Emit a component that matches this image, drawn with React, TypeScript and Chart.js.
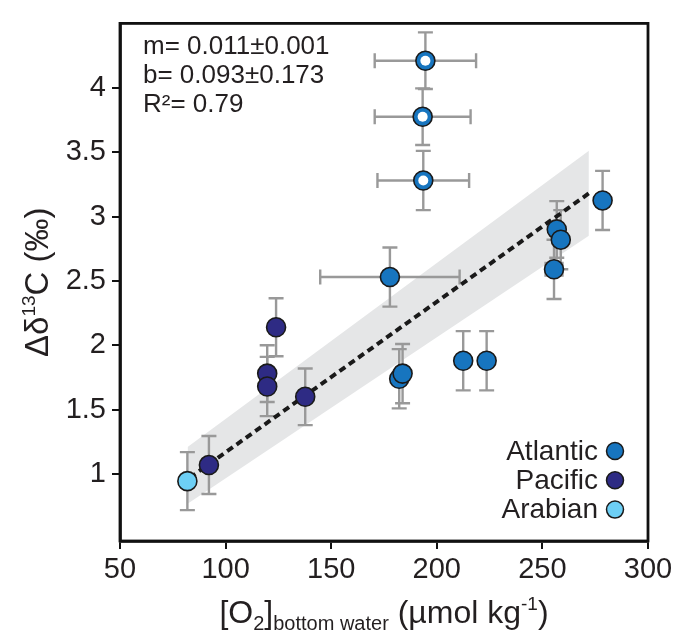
import React, { useEffect, useRef } from "react";
import { Chart, registerables } from "chart.js";

Chart.register(...registerables);

// ---- data ----
const xTicks = [50, 100, 150, 200, 250, 300];
const yTicks = [1, 1.5, 2, 2.5, 3, 3.5, 4];

const atlanticX = [194.6, 193.3, 193.6, 177.8, 278.5, 256.8, 258.7, 255.5, 182.2, 183.8, 212.5, 223.6];
const atlanticY = [4.21, 3.775, 3.28, 2.53, 3.125, 2.9, 2.82, 2.59, 1.74, 1.78, 1.88, 1.88];
const atlanticXErr = [24, 22.7, 21.7, 33, 0, 0, 0, 4, 0, 0, 0, 0];
const atlanticYErr = [0.22, 0.22, 0.23, 0.23, 0.23, 0.22, 0.23, 0.23, 0.23, 0.23, 0.23, 0.23];
const atlanticHollow = [true, true, true, false, false, false, false, false, false, false, false, false];

const pacificX = [123.9, 119.7, 119.7, 137.7, 92.1];
const pacificY = [2.14, 1.78, 1.68, 1.6, 1.07];
const pacificXErr = [0, 0, 0, 0, 2.4];
const pacificYErr = [0.225, 0.22, 0.23, 0.22, 0.225];

const arabianX = [81.9];
const arabianY = [0.945];
const arabianXErr = [0];
const arabianYErr = [0.225];

const regX = [83, 272];
const regY = [0.97, 3.18];

const bandX = [82, 272];
const bandUpper = [1.21, 3.51];
const bandLower = [0.77, 2.85];

const statLines = ["m= 0.011\u00b10.001", "b= 0.093\u00b10.173", "R\u00b2= 0.79"];
const legendLabels = ["Atlantic", "Pacific", "Arabian"];

// ---- styles ----
const FONT = "'Liberation Sans', Arial, Helvetica, sans-serif";
const TEXT = "#231f20";
const COL_ATL = "#1775bf";
const COL_PAC = "#2e2b84";
const COL_ARA = "#6dcff5";
const legendColors = [COL_ATL, COL_PAC, COL_ARA];

const groups = [
  { xs: atlanticX, ys: atlanticY, xe: atlanticXErr, ye: atlanticYErr },
  { xs: pacificX, ys: pacificY, xe: pacificXErr, ye: pacificYErr },
  { xs: arabianX, ys: arabianY, xe: arabianXErr, ye: arabianYErr },
];

const zip = (xs: number[], ys: number[]) => xs.map((x, i) => ({ x, y: ys[i] }));

type Seg = { t: string; size: number; dy: number };
function drawSegs(ctx: CanvasRenderingContext2D, segs: Seg[], cx: number, cy: number) {
  let total = 0;
  const widths = segs.map((s) => {
    ctx.font = `${s.size}px ${FONT}`;
    const w = ctx.measureText(s.t).width;
    total += w;
    return w;
  });
  let x = cx - total / 2;
  ctx.textAlign = "left";
  ctx.textBaseline = "alphabetic";
  segs.forEach((s, i) => {
    ctx.font = `${s.size}px ${FONT}`;
    ctx.fillText(s.t, x, cy + s.dy);
    x += widths[i];
  });
}

const errorBarsPlugin = {
  id: "errorBars",
  afterDatasetDraw(chart: any, args: any) {
    if (args.index !== 1) return;
    const { ctx } = chart;
    const xs = chart.scales.x;
    const ys = chart.scales.y;
    const cap = 7.5;
    ctx.save();
    ctx.strokeStyle = "#999999";
    ctx.lineWidth = 2.4;
    groups.forEach((g) => {
      g.xs.forEach((xv, i) => {
        const yv = g.ys[i];
        const px = xs.getPixelForValue(xv);
        const py = ys.getPixelForValue(yv);
        const ye = g.ye[i];
        if (ye > 0) {
          const t = ys.getPixelForValue(yv + ye);
          const b = ys.getPixelForValue(yv - ye);
          ctx.beginPath();
          ctx.moveTo(px, t);
          ctx.lineTo(px, b);
          ctx.moveTo(px - cap, t);
          ctx.lineTo(px + cap, t);
          ctx.moveTo(px - cap, b);
          ctx.lineTo(px + cap, b);
          ctx.stroke();
        }
        const xe = g.xe[i];
        if (xe > 0) {
          const l = xs.getPixelForValue(xv - xe);
          const r = xs.getPixelForValue(xv + xe);
          ctx.beginPath();
          ctx.moveTo(l, py);
          ctx.lineTo(r, py);
          ctx.moveTo(l, py - cap);
          ctx.lineTo(l, py + cap);
          ctx.moveTo(r, py - cap);
          ctx.lineTo(r, py + cap);
          ctx.stroke();
        }
      });
    });
    ctx.restore();
  },
};

const decorPlugin = {
  id: "decor",
  afterDraw(chart: any) {
    const { ctx, chartArea } = chart;
    const { left, right, top, bottom } = chartArea;
    ctx.save();
    // frame
    ctx.strokeStyle = "#111";
    ctx.lineWidth = 2.8;
    ctx.strokeRect(left, top, right - left, bottom - top);

    ctx.fillStyle = TEXT;
    // stats text
    ctx.font = `26px ${FONT}`;
    ctx.textAlign = "left";
    ctx.textBaseline = "middle";
    statLines.forEach((s, i) => ctx.fillText(s, 143, 47 + i * 28.7));

    // legend
    ctx.font = `28px ${FONT}`;
    ctx.textAlign = "right";
    legendLabels.forEach((s, i) => {
      const cy = 451 + i * 29.3;
      ctx.fillStyle = TEXT;
      ctx.fillText(s, 598, cy + 1);
      ctx.beginPath();
      ctx.arc(615, cy, 8.5, 0, Math.PI * 2);
      ctx.fillStyle = legendColors[i];
      ctx.fill();
      ctx.lineWidth = 1.5;
      ctx.strokeStyle = "#1a1a1a";
      ctx.stroke();
    });

    // y title
    ctx.fillStyle = TEXT;
    ctx.save();
    ctx.translate(48, (top + bottom) / 2);
    ctx.rotate(-Math.PI / 2);
    drawSegs(
      ctx,
      [
        { t: "\u0394\u03b4", size: 33, dy: 0 },
        { t: "13", size: 19, dy: -13 },
        { t: "C (\u2030)", size: 33, dy: 0 },
      ],
      0,
      0
    );
    ctx.restore();

    // x title
    drawSegs(
      ctx,
      [
        { t: "[O", size: 32, dy: 0 },
        { t: "2", size: 20, dy: 7 },
        { t: "]", size: 32, dy: 0 },
        { t: "bottom water", size: 20, dy: 7 },
        { t: " (\u00b5mol kg", size: 32, dy: 0 },
        { t: "-1", size: 19, dy: -13 },
        { t: ")", size: 32, dy: 0 },
      ],
      (left + right) / 2,
      623
    );
    ctx.restore();
  },
};

export default function App() {
  const ref = useRef<HTMLCanvasElement | null>(null);

  useEffect(() => {
    if (!ref.current) return;
    const pointStyle = (color: string) => ({
      type: "scatter" as const,
      backgroundColor: color,
      borderColor: "#1a1a1a",
      pointRadius: 9.5,
      pointBorderWidth: 1.6,
      showLine: false,
    });
    const chart = new Chart(ref.current, {
      type: "scatter",
      data: {
        datasets: [
          {
            type: "line",
            label: "bandUpper",
            data: zip(bandX, bandUpper),
            borderWidth: 0,
            pointRadius: 0,
            backgroundColor: "#e5e6e7",
            fill: "+1",
            order: 10,
          } as any,
          {
            type: "line",
            label: "bandLower",
            data: zip(bandX, bandLower),
            borderWidth: 0,
            pointRadius: 0,
            fill: false,
            order: 9,
          } as any,
          {
            type: "line",
            label: "fit",
            data: zip(regX, regY),
            borderColor: "#1a1a1a",
            borderWidth: 4,
            borderDash: [7, 4.5],
            pointRadius: 0,
            fill: false,
            order: 5,
          } as any,
          { label: "Atlantic", data: zip(atlanticX, atlanticY), ...pointStyle(COL_ATL), order: 3 },
          { label: "Pacific", data: zip(pacificX, pacificY), ...pointStyle(COL_PAC), order: 2 },
          { label: "Arabian", data: zip(arabianX, arabianY), ...pointStyle(COL_ARA), order: 1 },
          {
            label: "hollow",
            data: zip(
              atlanticX.filter((_, i) => atlanticHollow[i]),
              atlanticY.filter((_, i) => atlanticHollow[i])
            ),
            backgroundColor: "#ffffff",
            borderWidth: 0,
            pointRadius: 5,
            pointBorderWidth: 0,
            order: 0,
          } as any,
        ],
      },
      options: {
        animation: false,
        responsive: false,
        events: [],
        layout: { padding: { left: 0, top: 14, right: 29, bottom: 0 } },
        plugins: { legend: { display: false }, tooltip: { enabled: false } },
        scales: {
          x: {
            type: "linear",
            min: 50,
            max: 300,
            afterBuildTicks: (s: any) => {
              s.ticks = xTicks.map((v) => ({ value: v }));
            },
            afterFit: (s: any) => {
              s.height = 94;
            },
            ticks: {
              color: TEXT,
              font: { size: 29, family: FONT },
              padding: 4,
              maxRotation: 0,
              callback: (v: any) => String(v),
            },
            grid: { drawOnChartArea: false, drawTicks: true, tickLength: 8, color: "#111", lineWidth: 2 },
            border: { display: true, color: "#111", width: 2.8 },
          },
          y: {
            type: "linear",
            min: 0.48,
            max: 4.5,
            afterBuildTicks: (s: any) => {
              s.ticks = yTicks.map((v) => ({ value: v }));
            },
            afterFit: (s: any) => {
              s.width = 120;
            },
            ticks: {
              color: TEXT,
              font: { size: 29, family: FONT },
              padding: 6,
              callback: (v: any) => String(v),
            },
            grid: { drawOnChartArea: false, drawTicks: true, tickLength: 8, color: "#111", lineWidth: 2 },
            border: { display: true, color: "#111", width: 2.8 },
          },
        },
      },
      plugins: [errorBarsPlugin, decorPlugin],
    } as any);
    return () => chart.destroy();
  }, []);

  return (
    <div style={{ position: "absolute", left: 0, top: 0, width: 677, height: 635, background: "#fff" }}>
      <canvas ref={ref} width={677} height={635} />
    </div>
  );
}
